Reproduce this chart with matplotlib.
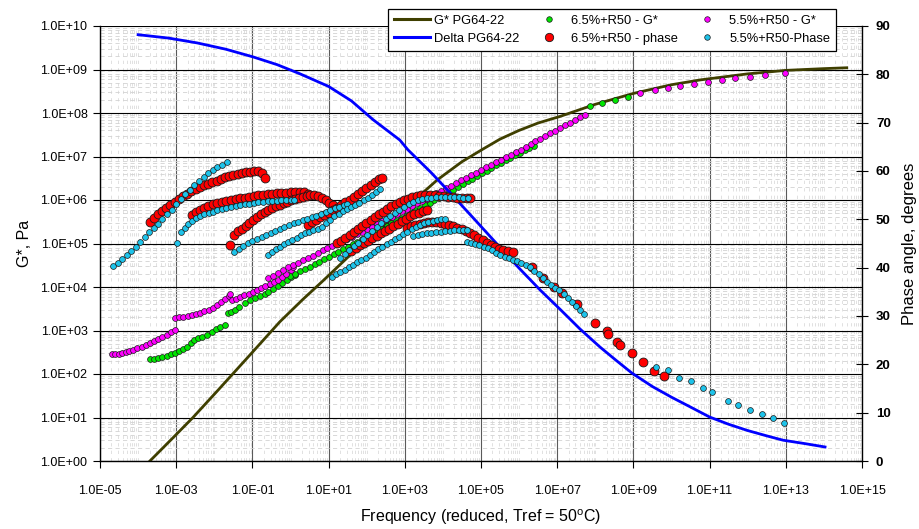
import numpy as np
import matplotlib.pyplot as plt
from matplotlib.lines import Line2D
from matplotlib.ticker import FixedLocator, FuncFormatter, LogLocator, NullFormatter

plt.rcParams["font.family"] = ["Liberation Sans", "DejaVu Sans"]

# ---- data: (log10 reduced frequency, value) ----
# PG64-22 master curves (lines)
GSTAR_PG = [(-3.69, 0.0), (-3.1, 0.52), (-2.56, 1.0), (-1.9, 1.63), (-1.0, 2.5), (-0.28, 3.2),
            (0.33, 3.72), (0.85, 4.14), (1.5, 4.68), (2.17, 5.2), (3.0, 5.8), (3.85, 6.46),
            (4.5, 6.88), (5.05, 7.17), (5.5, 7.4), (6.0, 7.6), (6.5, 7.77), (7.07, 7.92),
            (8.0, 8.2), (9.0, 8.45), (10.0, 8.65), (10.75, 8.76), (12.0, 8.9), (13.0, 8.98),
            (14.0, 9.02), (14.6, 9.04)]
DELTA_PG = [(-4.0, 88.2), (-3.2, 87.5), (-2.45, 86.5), (-1.7, 85.2), (-0.98, 83.6), (-0.35, 82.0),
            (0.25, 80.1), (1.0, 77.5), (1.6, 74.5), (2.17, 70.6), (2.87, 66.4), (3.08, 64.4),
            (3.7, 59.6), (4.27, 54.8), (4.9, 49.4), (5.5, 44.2), (6.0, 39.9), (6.55, 35.4),
            (7.1, 31.2), (7.6, 27.3), (8.12, 23.6), (8.55, 20.8), (8.96, 18.2), (9.5, 15.4),
            (10.0, 13.2), (10.49, 11.2), (11.0, 9.1), (11.5, 7.6), (12.0, 6.3), (12.5, 5.2),
            (12.93, 4.3), (13.5, 3.6), (14.03, 2.9)]

# 6.5%+R50 - G* (green)
GREEN_1 = [(-3.69, 2.34), (-3.58, 2.35), (-3.47, 2.37), (-3.37, 2.39), (-3.25, 2.42), (-3.14, 2.45),
           (-3.03, 2.48), (-2.92, 2.52), (-2.82, 2.57), (-2.72, 2.63), (-2.62, 2.72), (-2.54, 2.79),
           (-2.43, 2.82), (-2.32, 2.85), (-2.20, 2.90), (-2.06, 2.97), (-1.95, 3.03), (-1.84, 3.08),
           (-1.72, 3.13)]
GREEN_2 = [(-1.64, 3.40), (-1.55, 3.43), (-1.46, 3.47), (-1.34, 3.55), (-1.19, 3.63), (-1.06, 3.69),
           (-0.93, 3.75), (-0.80, 3.80), (-0.68, 3.85), (-0.59, 3.89), (-0.46, 3.96), (-0.34, 4.02),
           (-0.22, 4.09), (-0.10, 4.16), (0.02, 4.22), (0.12, 4.28)]
GREEN_3 = [(-0.01, 4.25), (0.12, 4.30), (0.25, 4.36), (0.38, 4.41), (0.50, 4.47), (0.63, 4.53),
           (0.75, 4.58), (0.88, 4.64), (1.00, 4.70), (1.13, 4.76), (1.25, 4.81), (1.38, 4.87),
           (1.50, 4.93), (1.63, 4.99), (1.75, 5.04), (1.88, 5.10), (2.00, 5.15), (2.13, 5.20),
           (2.27, 5.26), (2.40, 5.34), (2.52, 5.41), (2.65, 5.47), (2.77, 5.52), (2.90, 5.58),
           (3.02, 5.64), (3.15, 5.70), (3.27, 5.76), (3.40, 5.82), (3.52, 5.88), (3.65, 5.94),
           (3.77, 6.00), (3.90, 6.05), (4.02, 6.11), (4.15, 6.17), (4.27, 6.24), (4.40, 6.30),
           (4.52, 6.36), (4.65, 6.43), (4.77, 6.49), (4.90, 6.55), (5.02, 6.61), (5.15, 6.67),
           (5.27, 6.74), (5.40, 6.80), (5.52, 6.86), (5.65, 6.92), (5.77, 6.97), (5.90, 7.03),
           (6.02, 7.09), (6.15, 7.14), (6.27, 7.20), (6.40, 7.25)]
GREEN_TOP = [(7.86, 8.16), (8.18, 8.23), (8.52, 8.30), (8.86, 8.37)]

# 5.5%+R50 - G* (magenta)
MAG_1 = [(-4.69, 2.46), (-4.60, 2.46), (-4.51, 2.47), (-4.42, 2.48), (-4.33, 2.50), (-4.24, 2.52),
         (-4.13, 2.55), (-4.02, 2.59), (-3.91, 2.63), (-3.80, 2.67), (-3.69, 2.72), (-3.58, 2.76),
         (-3.47, 2.81), (-3.36, 2.85), (-3.25, 2.90), (-3.14, 2.96), (-3.03, 3.01)]
MAG_2 = [(-3.03, 3.29), (-2.92, 3.30), (-2.81, 3.31), (-2.70, 3.33), (-2.59, 3.35), (-2.48, 3.37),
         (-2.37, 3.40), (-2.26, 3.44), (-2.15, 3.48), (-2.04, 3.52), (-1.93, 3.58), (-1.82, 3.65),
         (-1.71, 3.72), (-1.62, 3.80), (-1.58, 3.84)]
MAG_3 = [(-1.54, 3.70), (-1.43, 3.73), (-1.32, 3.77), (-1.21, 3.81), (-1.10, 3.85), (-0.99, 3.88),
         (-0.88, 3.92), (-0.77, 3.97), (-0.66, 4.02), (-0.55, 4.07), (-0.44, 4.12), (-0.33, 4.17),
         (-0.22, 4.24), (-0.11, 4.31), (0.00, 4.39), (0.06, 4.46)]
MAG_4 = [(-0.59, 4.20), (-0.46, 4.26), (-0.33, 4.33), (-0.20, 4.39), (-0.07, 4.45), (0.06, 4.50),
         (0.19, 4.55), (0.32, 4.61), (0.45, 4.67), (0.58, 4.72), (0.71, 4.78), (0.84, 4.84),
         (0.97, 4.90), (1.10, 4.95), (1.23, 5.00), (1.36, 5.05), (1.49, 5.10), (1.62, 5.16),
         (1.75, 5.21), (1.88, 5.27), (2.01, 5.33), (2.14, 5.39), (2.27, 5.45), (2.40, 5.51),
         (2.53, 5.56), (2.66, 5.62), (2.79, 5.68), (2.92, 5.74), (3.05, 5.80), (3.18, 5.86),
         (3.31, 5.92), (3.44, 5.97), (3.57, 6.03), (3.70, 6.09), (3.83, 6.15), (3.96, 6.21),
         (4.09, 6.27), (4.22, 6.33), (4.35, 6.39), (4.48, 6.45), (4.61, 6.51), (4.74, 6.57),
         (4.87, 6.63), (5.00, 6.69), (5.13, 6.75), (5.26, 6.81), (5.39, 6.87), (5.52, 6.93),
         (5.65, 6.98), (5.78, 7.04), (5.91, 7.10), (6.04, 7.16), (6.17, 7.22), (6.30, 7.28),
         (6.43, 7.35), (6.56, 7.41), (6.69, 7.47), (6.82, 7.53), (6.95, 7.59), (7.08, 7.66),
         (7.21, 7.72), (7.34, 7.78), (7.47, 7.84), (7.60, 7.90), (7.73, 7.95)]
MAG_TOP = [(9.17, 8.46), (9.57, 8.53), (9.91, 8.57), (10.22, 8.62), (10.59, 8.67), (10.96, 8.71),
           (11.33, 8.76), (11.67, 8.80), (12.06, 8.83), (12.45, 8.87), (12.98, 8.92)]

# 6.5%+R50 - phase (red)
RED_1 = [(-3.69, 49.4), (-3.58, 50.2), (-3.47, 51.0), (-3.37, 51.7), (-3.26, 52.4), (-3.15, 53.0),
         (-3.04, 53.6), (-2.93, 54.2), (-2.82, 54.8), (-2.71, 55.3), (-2.60, 55.8), (-2.49, 56.2),
         (-2.38, 56.6), (-2.27, 57.0), (-2.16, 57.4), (-2.05, 57.7), (-1.94, 58.0), (-1.83, 58.4),
         (-1.72, 58.7), (-1.61, 59.0), (-1.50, 59.2), (-1.39, 59.4), (-1.28, 59.6), (-1.17, 59.7),
         (-1.06, 59.8), (-0.95, 59.9), (-0.85, 59.9), (-0.75, 59.6), (-0.67, 58.6)]
RED_2 = [(-2.59, 50.9), (-2.49, 51.5), (-2.38, 52.0), (-2.27, 52.4), (-2.16, 52.8), (-2.04, 53.1),
         (-1.92, 53.3), (-1.80, 53.5), (-1.68, 53.8), (-1.56, 54.0), (-1.44, 54.2), (-1.32, 54.4),
         (-1.20, 54.5), (-1.08, 54.7), (-0.96, 54.8), (-0.84, 55.0), (-0.72, 55.1), (-0.60, 55.2),
         (-0.48, 55.3), (-0.36, 55.4), (-0.24, 55.5), (-0.12, 55.5), (0.00, 55.6), (0.12, 55.6),
         (0.24, 55.7), (0.36, 55.7), (0.45, 55.3)]
RED_3 = [(-1.59, 44.7), (-1.48, 46.8), (-1.38, 47.5), (-1.28, 48.1), (-1.18, 48.7), (-1.08, 49.3),
         (-0.98, 49.9), (-0.88, 50.5), (-0.78, 51.0), (-0.68, 51.5), (-0.58, 51.9), (-0.48, 52.3),
         (-0.38, 52.7), (-0.28, 53.0), (-0.18, 53.3), (-0.08, 53.6), (0.02, 53.9), (0.12, 54.2),
         (0.22, 54.4), (0.32, 54.6), (0.42, 54.8), (0.52, 55.0), (0.62, 55.1), (0.72, 54.9),
         (0.82, 54.4), (0.92, 53.9), (1.02, 53.4), (1.12, 52.9)]
RED_4 = [(0.45, 48.8), (0.56, 49.4), (0.67, 49.9), (0.78, 50.4), (0.89, 50.9), (1.00, 51.4),
         (1.11, 51.9), (1.22, 52.4), (1.33, 52.9), (1.44, 53.5), (1.55, 54.1), (1.66, 54.7),
         (1.77, 55.3), (1.88, 55.9), (1.99, 56.5), (2.10, 57.1), (2.21, 57.7), (2.32, 58.3),
         (2.40, 58.6)]
RED_5 = [(1.22, 45.0), (1.33, 45.6), (1.44, 46.2), (1.55, 46.8), (1.66, 47.4), (1.77, 48.0),
         (1.88, 48.6), (1.99, 49.2), (2.10, 49.8), (2.21, 50.4), (2.32, 51.0), (2.43, 51.6),
         (2.54, 52.2), (2.65, 52.7), (2.76, 53.2), (2.87, 53.6), (2.98, 54.0), (3.09, 54.3),
         (3.20, 54.6), (3.31, 54.8), (3.42, 55.0), (3.54, 55.1), (3.66, 55.1), (3.78, 55.0),
         (3.90, 54.9), (4.02, 54.8), (4.14, 54.7), (4.26, 54.6), (4.38, 54.5), (4.50, 54.5),
         (4.62, 54.4), (4.71, 54.4)]
RED_6 = [(1.60, 43.5), (1.71, 44.1), (1.82, 44.6), (1.93, 45.1), (2.04, 45.6), (2.15, 46.1),
         (2.26, 46.6), (2.37, 47.1), (2.48, 47.6), (2.59, 48.1), (2.70, 48.6), (2.81, 49.1),
         (2.92, 49.6), (3.03, 50.1), (3.14, 50.6), (3.25, 51.0), (3.36, 51.4), (3.47, 51.7),
         (3.58, 52.0)]
RED_7 = [(3.06, 48.2), (3.17, 48.6), (3.28, 48.9), (3.39, 49.1), (3.50, 49.3), (3.61, 49.4),
         (3.72, 49.4), (3.83, 49.4), (3.94, 49.3), (4.05, 49.1), (4.16, 48.9), (4.27, 48.6),
         (4.38, 48.3), (4.49, 48.0), (4.60, 47.6), (4.71, 47.2), (4.82, 46.7), (4.93, 46.2),
         (5.04, 45.7), (5.15, 45.2), (5.26, 44.7), (5.37, 44.2), (5.48, 43.9), (5.59, 43.7),
         (5.70, 43.5), (5.84, 43.2)]
RED_TAIL = [(6.34, 40.1), (6.63, 37.9), (6.92, 36.0), (7.13, 34.8), (7.52, 32.5), (7.99, 28.6),
            (8.31, 27.0), (8.34, 26.3), (8.57, 24.6), (8.65, 24.0), (8.96, 22.3), (9.25, 20.5),
            (9.54, 18.6), (9.80, 17.6)]

# 5.5%+R50-Phase (cyan)
CYAN_1 = [(-4.66, 40.3), (-4.54, 41.0), (-4.42, 41.8), (-4.30, 42.6), (-4.18, 43.4), (-4.06, 44.3),
          (-3.95, 45.3), (-3.83, 46.4), (-3.71, 47.4), (-3.59, 48.2), (-3.47, 49.1), (-3.36, 50.0),
          (-3.24, 51.0), (-3.12, 52.0), (-3.00, 53.2), (-2.88, 54.3), (-2.76, 55.2), (-2.64, 56.1),
          (-2.52, 57.1), (-2.40, 57.9), (-2.28, 58.8), (-2.16, 59.6), (-2.04, 60.2), (-1.92, 60.8),
          (-1.80, 61.3), (-1.66, 61.9)]
CYAN_2 = [(-2.98, 45.1), (-2.87, 47.4), (-2.78, 48.3), (-2.69, 49.0), (-2.59, 49.6), (-2.49, 50.2),
          (-2.38, 50.6), (-2.27, 51.0), (-2.15, 51.3), (-2.04, 51.6), (-1.92, 51.9), (-1.80, 52.1),
          (-1.68, 52.3), (-1.56, 52.5), (-1.44, 52.7), (-1.32, 52.9), (-1.20, 53.1), (-1.08, 53.2),
          (-0.96, 53.4), (-0.84, 53.5), (-0.72, 53.6), (-0.60, 53.7), (-0.48, 53.7), (-0.36, 53.8),
          (-0.24, 53.9), (-0.12, 53.9), (0.00, 54.0), (0.10, 54.1)]
CYAN_3 = [(-1.48, 43.2), (-1.36, 43.9), (-1.24, 44.5), (-1.12, 45.1), (-1.00, 45.6), (-0.88, 46.0),
          (-0.76, 46.4), (-0.64, 46.8), (-0.52, 47.2), (-0.40, 47.6), (-0.28, 48.0), (-0.16, 48.4),
          (-0.04, 48.8), (0.08, 49.2), (0.20, 49.5), (0.32, 49.8), (0.44, 50.1), (0.56, 50.4),
          (0.68, 50.7), (0.80, 51.1), (0.92, 51.5), (1.04, 51.9), (1.16, 52.3), (1.28, 52.6),
          (1.40, 52.9), (1.48, 53.2)]
CYAN_4 = [(-0.59, 42.6), (-0.49, 43.3), (-0.39, 43.8), (-0.28, 44.3), (-0.17, 44.8), (-0.06, 45.3),
          (0.05, 45.7), (0.16, 46.2), (0.27, 46.7), (0.38, 47.1), (0.49, 47.4), (0.60, 47.7),
          (0.71, 48.1), (0.82, 48.5), (0.93, 49.2), (1.04, 49.9), (1.15, 50.6), (1.26, 51.2),
          (1.37, 51.7), (1.48, 52.1), (1.59, 52.6), (1.70, 53.0), (1.81, 53.4), (1.92, 53.9),
          (2.03, 54.5), (2.14, 55.1), (2.25, 55.7), (2.36, 56.2)]
CYAN_5 = [(1.09, 38.1), (1.20, 38.6), (1.31, 39.1), (1.42, 39.6), (1.53, 40.1), (1.64, 40.6),
          (1.75, 41.1), (1.86, 41.6), (1.97, 42.1), (2.08, 42.7), (2.19, 43.2), (2.30, 43.8),
          (2.41, 44.3), (2.52, 44.9), (2.63, 45.4), (2.74, 45.9), (2.85, 46.4), (2.96, 46.9),
          (3.07, 47.4), (3.18, 47.9), (3.29, 48.4), (3.40, 48.8), (3.51, 49.2), (3.62, 49.5),
          (3.73, 49.7), (3.84, 49.9), (3.95, 50.0), (4.06, 50.0)]
CYAN_6 = [(1.30, 42.0), (1.42, 42.8), (1.54, 43.6), (1.66, 44.4), (1.78, 45.2), (1.90, 46.0),
          (2.02, 46.8), (2.14, 47.6), (2.26, 48.4), (2.38, 49.2), (2.50, 50.0), (2.62, 50.7),
          (2.74, 51.4), (2.86, 52.0), (2.98, 52.6), (3.10, 53.1), (3.22, 53.5), (3.34, 53.9),
          (3.46, 54.2), (3.58, 54.4), (3.70, 54.5), (3.82, 54.6), (3.94, 54.6), (4.06, 54.6),
          (4.18, 54.6), (4.30, 54.6), (4.42, 54.6), (4.54, 54.5), (4.66, 54.5)]
CYAN_7 = [(3.22, 46.6), (3.34, 46.8), (3.46, 47.0), (3.58, 47.1), (3.70, 47.2), (3.82, 47.3),
          (3.94, 47.4), (4.06, 47.5), (4.18, 47.6), (4.30, 47.7), (4.42, 47.7), (4.54, 47.8),
          (4.63, 47.8)]
CYAN_8 = [(4.63, 45.3), (4.74, 45.1), (4.85, 44.8), (4.96, 44.6), (5.07, 44.3), (5.18, 44.0),
          (5.29, 43.6), (5.40, 43.1), (5.51, 42.6), (5.62, 42.2), (5.73, 41.9), (5.84, 41.6),
          (5.95, 41.3), (6.06, 40.9), (6.17, 40.5), (6.29, 40.1), (6.40, 39.4), (6.51, 38.6),
          (6.62, 37.8), (6.73, 37.0), (6.84, 36.4), (6.95, 35.8), (7.06, 35.3), (7.17, 34.6),
          (7.28, 33.8), (7.39, 33.0), (7.50, 32.1), (7.61, 31.2), (7.70, 30.5)]
CYAN_TAIL = [(9.59, 19.4), (9.91, 18.8), (10.20, 17.2), (10.51, 16.6), (10.83, 15.1), (11.06, 14.3),
             (11.48, 12.4), (11.75, 11.6), (12.06, 10.6), (12.38, 9.7), (12.66, 8.9), (12.95, 7.9)]

GREEN_SETS = [GREEN_1, GREEN_2, GREEN_3, GREEN_TOP]
MAG_SETS = [MAG_1, MAG_2, MAG_3, MAG_4, MAG_TOP]
RED_SETS = [RED_1, RED_2, RED_3, RED_4, RED_6, RED_5, RED_7, RED_TAIL]
CYAN_SETS = [CYAN_1, CYAN_2, CYAN_3, CYAN_4, CYAN_5, CYAN_6, CYAN_7, CYAN_8, CYAN_TAIL]

LEGEND_LABELS = ["G* PG64-22", "Delta PG64-22", "6.5%+R50 - G*",
                 "6.5%+R50 - phase", "5.5%+R50 - G*", "5.5%+R50-Phase"]

olive = "#3f3f00"
blue = "#0000ff"
green = "#00e600"
magenta = "#ff00ff"
red = "#ff0000"
cyan = "#1ec3ea"
edge = "#1a1a1a"


def xy(points):
    arr = np.array(points, dtype=float)
    return 10 ** arr[:, 0], arr[:, 1]


def logy(points):
    arr = np.array(points, dtype=float)
    return 10 ** arr[:, 0], 10 ** arr[:, 1]


fig = plt.figure(figsize=(9.19, 5.29), dpi=100, facecolor="white")
ax = fig.add_axes([100 / 919, 1 - 461 / 529, 762 / 919, 435 / 529])
ax.set_xscale("log")
ax.set_yscale("log")
ax.set_xlim(1e-5, 1e15)
ax.set_ylim(1e0, 1e10)

ax.xaxis.set_major_locator(FixedLocator(10.0 ** np.arange(-5, 16, 2)))
ax.xaxis.set_minor_locator(LogLocator(base=10, subs=np.arange(1, 10), numticks=200))
ax.yaxis.set_major_locator(FixedLocator(10.0 ** np.arange(0, 11)))
ax.yaxis.set_minor_locator(LogLocator(base=10, subs=np.arange(2, 10), numticks=200))
fmt = FuncFormatter(lambda v, p: f"{v:.1E}")
ax.xaxis.set_major_formatter(fmt)
ax.yaxis.set_major_formatter(fmt)
ax.xaxis.set_minor_formatter(NullFormatter())
ax.yaxis.set_minor_formatter(NullFormatter())

ax.grid(which="minor", axis="y", color="#d2d2d2", lw=0.6, ls=(0, (5, 4)))
ax.grid(which="minor", axis="x", color="#dcdcdc", lw=0.6, ls=(0, (4, 5)))
ax.grid(which="major", axis="x", color="#5a5a5a", lw=0.8)
ax.grid(which="major", axis="y", color="#000000", lw=0.8)
ax.set_axisbelow(True)
ax.tick_params(which="major", direction="out", length=5, width=0.8, labelsize=9, pad=4)
ax.tick_params(axis="x", which="major", pad=12)
ax.tick_params(which="minor", length=0)
for s in ["top", "right"]:
    ax.spines[s].set_visible(False)
for s in ["left", "bottom"]:
    ax.spines[s].set_linewidth(1.0)

mk_small = dict(ls="none", marker="o", ms=4.2, mec=edge, mew=0.5)
mk_big = dict(ls="none", marker="o", ms=6.4, mec=edge, mew=0.6)

ax.plot(*logy(GSTAR_PG), color=olive, lw=2.0, zorder=2)
for seg in GREEN_SETS:
    ax.plot(*logy(seg), mfc=green, zorder=3, **mk_small)
for seg in MAG_SETS:
    ax.plot(*logy(seg), mfc=magenta, zorder=4, **mk_small)

ax2 = ax.twinx()
ax2.set_ylim(0, 90)
ax2.set_yticks(np.arange(0, 91, 10))
ax2.tick_params(direction="inout", length=8, width=0.8, labelsize=9.5, pad=6)
for lab in ax2.get_yticklabels():
    lab.set_fontweight("bold")
for s in ["top", "left", "bottom"]:
    ax2.spines[s].set_visible(False)
ax2.spines["right"].set_linewidth(1.0)

ax2.plot(*xy(DELTA_PG), color=blue, lw=2.0, zorder=2)
for seg in RED_SETS:
    ax2.plot(*xy(seg), mfc=red, zorder=3, **mk_big)
for seg in CYAN_SETS:
    ax2.plot(*xy(seg), mfc=cyan, zorder=4, **mk_small)

ax.set_xlabel("Frequency (reduced, Tref = 50$^\\mathregular{o}$C)", fontsize=11.5, labelpad=8)
ax.set_ylabel("G*, Pa", fontsize=11.5, labelpad=6)
ax2.set_ylabel("Phase angle, degrees", fontsize=12, labelpad=8)

handles = [
    Line2D([], [], color=olive, lw=2.2),
    Line2D([], [], color=blue, lw=2.2),
    Line2D([], [], ls="none", marker="o", ms=4, mfc=green, mec=edge, mew=0.5),
    Line2D([], [], ls="none", marker="o", ms=6, mfc=red, mec=edge, mew=0.6),
    Line2D([], [], ls="none", marker="o", ms=4, mfc=magenta, mec=edge, mew=0.5),
    Line2D([], [], ls="none", marker="o", ms=4, mfc=cyan, mec=edge, mew=0.5),
]
leg = fig.legend(handles, LEGEND_LABELS, ncol=3, loc="upper left",
                 bbox_to_anchor=(388 / 919, 1 - 9 / 529), borderaxespad=0, fontsize=9.3,
                 frameon=True, fancybox=False, framealpha=1, edgecolor="black",
                 handlelength=2.8, handletextpad=0.3, columnspacing=0.9, borderpad=0.45,
                 labelspacing=0.45, numpoints=1)
leg.get_frame().set_linewidth(0.9)
leg.set_zorder(10)

fig.savefig("out.png", dpi=100)
